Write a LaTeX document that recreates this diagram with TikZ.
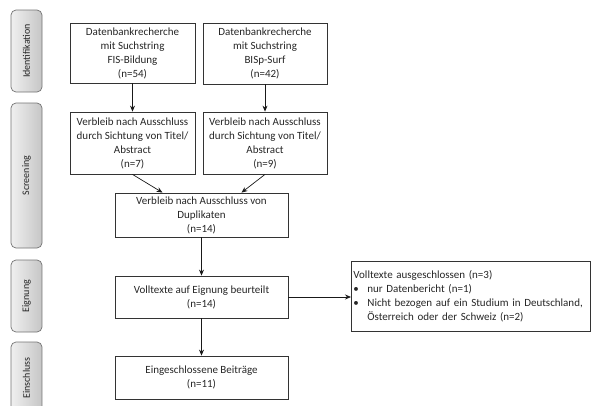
\documentclass[tikz,border=0pt]{standalone}
\usepackage{fontspec}
\setmainfont{Carlito}
\usetikzlibrary{arrows.meta,calc}
\begin{document}
\begin{tikzpicture}[x=1pt,y=-1pt,
  box/.style={draw=black!80, line width=0.8pt, align=center, inner sep=2pt,
    font=\fontsize{11}{14}\selectfont, text=black!85},
  side/.style={draw=black!55, line width=0.7pt, rounded corners=5pt,
    left color=gray!12, right color=gray!45, minimum width=31pt,
    font=\fontsize{10}{12}\selectfont, text=black!85},
  arr/.style={-{Stealth[length=6pt,width=5pt]}, line width=0.7pt, draw=black!90}]
\useasboundingbox (0,0) rectangle (591,405);
% phase labels
\node[side, minimum height=82pt] (sid) at (26.5,51) {\rotatebox{90}{Identifikation}};
\node[side, minimum height=145pt] (sscr) at (26.5,175.5) {\rotatebox{90}{Screening}};
\node[side, minimum height=72pt] (seig) at (26.5,296) {\rotatebox{90}{Eignung}};
\node[side, minimum height=72pt] (sein) at (26.5,378) {\rotatebox{90}{Einschluss}};
% boxes
\node[box, minimum width=125pt, minimum height=60pt] (fis) at (132.5,53)
  {Datenbankrecherche\\mit Suchstring\\FIS-Bildung\\(n=54)};
\node[box, minimum width=124pt, minimum height=61pt] (bisp) at (265,53.5)
  {Datenbankrecherche\\mit Suchstring\\BISp-Surf\\(n=42)};
\node[box, minimum width=125pt, minimum height=62pt] (sl) at (132.5,143)
  {Verbleib nach Ausschluss\\durch Sichtung von Titel/\\Abstract\\(n=7)};
\node[box, minimum width=124pt, minimum height=62pt] (sr) at (265,143)
  {Verbleib nach Ausschluss\\durch Sichtung von Titel/\\Abstract\\(n=9)};
\node[box, minimum width=173pt, minimum height=44pt] (dup) at (201.5,215)
  {Verbleib nach Ausschluss von\\Duplikaten\\(n=14)};
\node[box, minimum width=173pt, minimum height=42pt] (voll) at (201.5,297)
  {Volltexte auf Eignung beurteilt\\(n=14)};
\node[box, minimum width=173pt, minimum height=43pt] (ein) at (201.5,377.5)
  {Eingeschlossene Beiträge\\(n=11)};
\node[box, align=left, anchor=west, text width=235pt, minimum height=70pt] (ex) at (351,296.5)
  {Volltexte ausgeschlossen (n=3)\\
   \makebox[14pt][l]{•}nur Datenbericht (n=1)\\
   \makebox[14pt][l]{•}Nicht bezogen auf ein Studium in Deutschland,\\
   \hspace*{14pt}Österreich oder der Schweiz (n=2)};
% connectors
\draw[arr] (fis) -- (sl);
\draw[arr] (bisp) -- (sr);
\draw[arr] (sl.south) -- ([xshift=-39pt]dup.north);
\draw[arr] (sr.south) -- ([xshift=40pt]dup.north);
\draw[arr] (dup) -- (voll);
\draw[arr] (voll) -- (ein);
\draw[arr] (voll.east) -- (voll.east -| ex.west);
\end{tikzpicture}
\end{document}
